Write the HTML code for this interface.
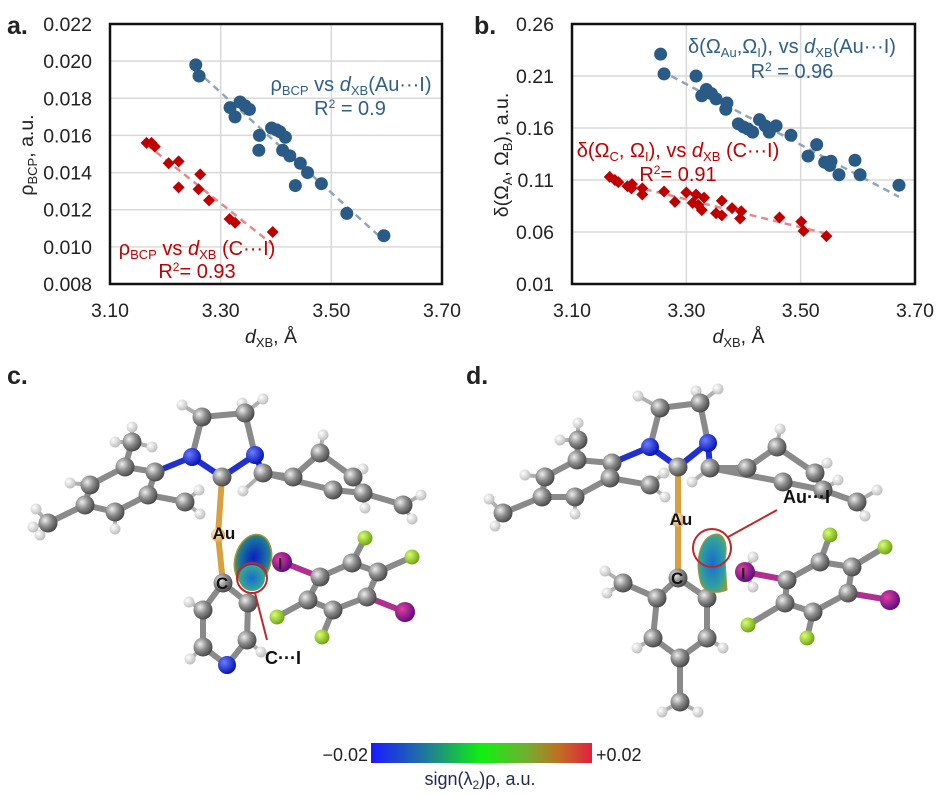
<!DOCTYPE html>
<html><head><meta charset="utf-8"><style>
body{margin:0;background:#fff;}
svg{display:block;font-family:"Liberation Sans",sans-serif;}
</style></head><body>
<svg id="fig" width="939" height="796" viewBox="0 0 939 796">
<defs>
<radialGradient id="gC" cx="35%" cy="35%" r="70%"><stop offset="0" stop-color="#eee"/><stop offset="0.5" stop-color="#8a8a8a"/><stop offset="1" stop-color="#444"/></radialGradient>
<radialGradient id="gH" cx="35%" cy="35%" r="70%"><stop offset="0" stop-color="#fff"/><stop offset="1" stop-color="#bbb"/></radialGradient>
<radialGradient id="gN" cx="35%" cy="35%" r="70%"><stop offset="0" stop-color="#6a7cff"/><stop offset="1" stop-color="#0010b0"/></radialGradient>
<radialGradient id="gF" cx="35%" cy="35%" r="70%"><stop offset="0" stop-color="#d8ff70"/><stop offset="1" stop-color="#6aa010"/></radialGradient>
<radialGradient id="gI" cx="35%" cy="35%" r="70%"><stop offset="0" stop-color="#e040a0"/><stop offset="1" stop-color="#5a0a80"/></radialGradient>
<radialGradient id="gAu" cx="35%" cy="35%" r="70%"><stop offset="0" stop-color="#fff0d0"/><stop offset="1" stop-color="#e0a050"/></radialGradient>
<radialGradient id="gBlob" cx="50%" cy="45%" r="60%"><stop offset="0" stop-color="#0a20c0"/><stop offset="0.6" stop-color="#1870a0"/><stop offset="1" stop-color="#7a9a30"/></radialGradient>
<radialGradient id="gBlob2" cx="50%" cy="50%" r="60%"><stop offset="0" stop-color="#1a6ad0"/><stop offset="0.7" stop-color="#30a0a0"/><stop offset="1" stop-color="#80a040"/></radialGradient>
<linearGradient id="cbar" x1="0" x2="1"><stop offset="0" stop-color="#1a1aff"/><stop offset="0.25" stop-color="#207a9a"/><stop offset="0.5" stop-color="#10f010"/><stop offset="0.7" stop-color="#70b030"/><stop offset="0.85" stop-color="#c07020"/><stop offset="1" stop-color="#e02040"/></linearGradient>
</defs>
<g id="chartA"></g>
<g id="chartB"></g>
<g id="molC"></g>
<g id="molD"></g>

<text x="7" y="34" font-size="25" font-weight="bold" fill="#222">a.</text>
<text x="474" y="34" font-size="25" font-weight="bold" fill="#222">b.</text>
<text x="7" y="384" font-size="25" font-weight="bold" fill="#222">c.</text>
<text x="466" y="384" font-size="25" font-weight="bold" fill="#222">d.</text>

<g>
<rect x="371" y="743" width="221" height="20" fill="url(#cbar)"/>
<text x="368" y="761" font-size="18" text-anchor="end" fill="#222">−0.02</text>
<text x="596" y="761" font-size="18" fill="#222">+0.02</text>
<text x="480" y="785" font-size="18" text-anchor="middle" fill="#1f2a55">sign(λ<tspan font-size="12" dy="4">2</tspan><tspan dy="-4">)ρ, a.u.</tspan></text>
</g>
</svg>
<script>
// ---------- Chart A data ----------
const aBlueX=[3.255,3.261,3.317,3.326,3.335,3.344,3.352,3.370,3.369,3.392,3.401,3.407,3.417,3.412,3.425,3.444,3.457,3.435,3.482,3.528,3.595];
const aBlueY=[0.0198,0.0192,0.0175,0.0170,0.0178,0.0176,0.0174,0.0160,0.0152,0.0164,0.0163,0.0162,0.0159,0.0152,0.0149,0.0145,0.0140,0.0133,0.0134,0.0118,0.0106];
const aRedX=[3.166,3.175,3.181,3.206,3.224,3.224,3.263,3.260,3.279,3.316,3.326,3.394];
const aRedY=[0.0156,0.0156,0.0154,0.0145,0.0146,0.0132,0.0139,0.0131,0.0125,0.0115,0.0113,0.0108];
const aYTicks=["0.008","0.010","0.012","0.014","0.016","0.018","0.020","0.022"];
const xTicks=["3.10","3.30","3.50","3.70"];
// ---------- Chart B data ----------
const bBlueX=[3.255,3.261,3.317,3.327,3.335,3.344,3.352,3.371,3.369,3.391,3.400,3.408,3.416,3.428,3.438,3.445,3.457,3.483,3.513,3.528,3.542,3.553,3.551,3.567,3.595,3.604,3.672];
const bBlueY=[0.231,0.212,0.210,0.191,0.197,0.193,0.188,0.184,0.178,0.164,0.161,0.159,0.156,0.168,0.162,0.156,0.162,0.153,0.133,0.144,0.127,0.128,0.124,0.115,0.129,0.115,0.105];
const bRedX=[3.166,3.175,3.181,3.197,3.205,3.204,3.223,3.223,3.261,3.280,3.300,3.311,3.317,3.321,3.327,3.331,3.352,3.362,3.362,3.380,3.396,3.394,3.463,3.501,3.505,3.545];
const bRedY=[0.113,0.110,0.108,0.104,0.106,0.102,0.102,0.096,0.099,0.089,0.098,0.088,0.096,0.086,0.081,0.093,0.078,0.090,0.076,0.083,0.080,0.073,0.074,0.070,0.061,0.056];
const bYTicks=["0.01","0.06","0.11","0.16","0.21","0.26"];

const NS="http://www.w3.org/2000/svg";
function mk(parent,tag,attrs,text){const e=document.createElementNS(NS,tag);for(const k in attrs)e.setAttribute(k,attrs[k]);if(text!==undefined)e.textContent=text;parent.appendChild(e);return e;}
function fit(xs,ys){const n=xs.length;let sx=0,sy=0,sxx=0,sxy=0;for(let i=0;i<n;i++){sx+=xs[i];sy+=ys[i];sxx+=xs[i]*xs[i];sxy+=xs[i]*ys[i];}const m=(n*sxy-sx*sy)/(n*sxx-sx*sx);return [m,(sy-m*sx)/n];}

function chart(g,L,R,T,B,ymin,ymax,yTicks,blue,red){
  const xs=v=>L+(v-3.1)/0.6*(R-L);
  const ys=v=>B-(v-ymin)/(ymax-ymin)*(B-T);
  yTicks.forEach(t=>{const y=ys(+t);
    const l=mk(g,'line',{x1:L,x2:R,y1:y,y2:y,stroke:'#d9d9d9','stroke-width':1.5});
    
    
    const tx=mk(g,'text',{x:L-18,y:y+7,'font-size':19.5,'text-anchor':'end',fill:'#222'},t);
    
    
  });
  xTicks.forEach(t=>{const x=xs(+t);
    const l=mk(g,'line',{x1:x,x2:x,y1:T,y2:B,stroke:'#d9d9d9','stroke-width':1.5});
    
    
    const tx=mk(g,'text',{x:x,y:317,'font-size':19.5,'text-anchor':'middle',fill:'#222'},t);
    
    
  });
  const fr=mk(g,'rect',{x:L,y:T,width:R-L,height:B-T,fill:'none',stroke:'#111','stroke-width':2.5});
  
  
  [[blue,'#2a5a86','blue'],[red,'#c00000','red']].forEach(([s,mc,nm])=>{
    const [m,b]=fit(s[0],s[1]);const x0=Math.min(...s[0]),x1=Math.max(...s[0]);
    const tl=mk(g,'line',{x1:xs(x0),y1:ys(m*x0+b),x2:xs(x1),y2:ys(m*x1+b),stroke:nm=='blue'?'#8fa5b8':'#e08a8a','stroke-width':2.5,'stroke-dasharray':'7,5'});
    
    
    s[0].forEach((xv,i)=>{const cx=xs(xv),cy=ys(s[1][i]);let p;
      if(nm=='blue'){p=mk(g,'circle',{cx:cx,cy:cy,r:6.5,fill:mc});}
      else{p=mk(g,'path',{d:`M${cx} ${cy-6}L${cx+6} ${cy}L${cx} ${cy+6}L${cx-6} ${cy}Z`,fill:mc});}
      
      
    });
  });
  const xl=mk(g,'text',{x:(L+R)/2-5,y:343,'font-size':19.5,'text-anchor':'middle',fill:'#222'});
  xl.innerHTML='<tspan font-style="italic">d</tspan><tspan font-size="13" dy="4">XB</tspan><tspan dy="-4">, Å</tspan>';
  
  
  return {xs,ys};
}
const gA=document.getElementById('chartA');
chart(gA,110,442,24,284,0.008,0.022,aYTicks,[aBlueX,aBlueY],[aRedX,aRedY]);
const ya=mk(gA,'text',{x:0,y:0,'font-size':19.5,'text-anchor':'middle',fill:'#222',transform:'translate(33,155) rotate(-90)'});
ya.innerHTML='ρ<tspan font-size="13" dy="4">BCP</tspan><tspan dy="-4">, a.u.</tspan>';


let t;
t=mk(gA,'text',{x:351,y:91,'font-size':20,'text-anchor':'middle',fill:'#2f5f8a'});
t.innerHTML='ρ<tspan font-size="13" dy="4">BCP</tspan><tspan dy="-4"> vs </tspan><tspan font-style="italic">d</tspan><tspan font-size="13" dy="4">XB</tspan><tspan dy="-4">(Au···I)</tspan>';


t=mk(gA,'text',{x:350,y:115,'font-size':20,'text-anchor':'middle',fill:'#2f5f8a'});
t.innerHTML='R<tspan font-size="12" dy="-7">2</tspan><tspan dy="7"> = 0.9</tspan>';


t=mk(gA,'text',{x:197,y:255,'font-size':20,'text-anchor':'middle',fill:'#c00000'});
t.innerHTML='ρ<tspan font-size="13" dy="4">BCP</tspan><tspan dy="-4"> vs </tspan><tspan font-style="italic">d</tspan><tspan font-size="13" dy="4">XB</tspan><tspan dy="-4"> (C···I)</tspan>';


t=mk(gA,'text',{x:197,y:278,'font-size':20,'text-anchor':'middle',fill:'#c00000'});
t.innerHTML='R<tspan font-size="12" dy="-7">2</tspan><tspan dy="7">= 0.93</tspan>';



const gB=document.getElementById('chartB');
chart(gB,572,915,24,284,0.01,0.26,bYTicks,[bBlueX,bBlueY],[bRedX,bRedY]);
const yb=mk(gB,'text',{x:0,y:0,'font-size':19.5,'text-anchor':'middle',fill:'#222',transform:'translate(508,155) rotate(-90)'});
yb.innerHTML='δ(Ω<tspan font-size="13" dy="4">A</tspan><tspan dy="-4">, Ω</tspan><tspan font-size="13" dy="4">B</tspan><tspan dy="-4">), a.u.</tspan>';


t=mk(gB,'text',{x:792,y:53,'font-size':20,'text-anchor':'middle',fill:'#2f5f8a'});
t.innerHTML='δ(Ω<tspan font-size="13" dy="4">Au</tspan><tspan dy="-4">,Ω</tspan><tspan font-size="13" dy="4">I</tspan><tspan dy="-4">), vs </tspan><tspan font-style="italic">d</tspan><tspan font-size="13" dy="4">XB</tspan><tspan dy="-4">(Au···I)</tspan>';


t=mk(gB,'text',{x:792,y:78,'font-size':20,'text-anchor':'middle',fill:'#2f5f8a'});
t.innerHTML='R<tspan font-size="12" dy="-7">2</tspan><tspan dy="7"> = 0.96</tspan>';


t=mk(gB,'text',{x:678,y:157,'font-size':20,'text-anchor':'middle',fill:'#c00000'});
t.innerHTML='δ(Ω<tspan font-size="13" dy="4">C</tspan><tspan dy="-4">, Ω</tspan><tspan font-size="13" dy="4">I</tspan><tspan dy="-4">), vs </tspan><tspan font-style="italic">d</tspan><tspan font-size="13" dy="4">XB</tspan><tspan dy="-4"> (C···I)</tspan>';


t=mk(gB,'text',{x:678,y:181,'font-size':20,'text-anchor':'middle',fill:'#c00000'});
t.innerHTML='R<tspan font-size="12" dy="-7">2</tspan><tspan dy="7">= 0.91</tspan>';



// ---------- Molecules ----------
const R={C:9.5,H:5.5,N:9,F:7.5,I:10,Au:7};
function mol(g,atoms,bonds,hs){
  bonds.forEach(([a,b,col])=>{const A=atoms[a],B=atoms[b];
    const l=mk(g,'line',{x1:A[1],y1:A[2],x2:B[1],y2:B[2],stroke:col||'#8a8a8a','stroke-width':6,'stroke-linecap':'round'});
    
    
  });
  hs.forEach(([a,dx,dy])=>{const A=atoms[a];
    const l=mk(g,'line',{x1:A[1],y1:A[2],x2:A[1]+dx,y2:A[2]+dy,stroke:'#b0b0b0','stroke-width':4});
    
    
    const c=mk(g,'circle',{cx:A[1]+dx,cy:A[2]+dy,r:R.H,fill:'url(#gH)'});
    
    
  });
  atoms.forEach(([el,x,y])=>{
    const c=mk(g,'circle',{cx:x,cy:y,r:R[el],fill:'url(#g'+el+')'});
    
    
  });
}
const gC=document.getElementById('molC');
const cAtoms=[['C',202,417],['C',245,413],['N',192,457],['N',255,455],['C',222,477],
['C',155,472],['C',125,467],['C',132,442],['C',90,485],['C',85,505],['C',115,512],['C',148,495],['C',185,502],['C',48,523],
['C',293,477],['C',320,453],['C',353,477],['C',363,493],['C',333,490],['C',263,473],['C',403,505],
['Au',218,535],['C',223,583],['C',248,603],['C',247,640],['N',227,665],['C',203,647],['C',203,610],
['I',282,562],['C',320,577],['C',352,563],['C',378,572],['C',367,597],['C',333,610],['C',308,600],
['F',365,538],['F',412,557],['F',277,617],['F',322,637],['I',405,612]];
const cBonds=[[0,1],[0,2],[1,3],[2,4,'#2030d0'],[3,4,'#2030d0'],[2,5,'#2030d0'],[5,6],[6,7],[6,8],[8,9],[9,10],[10,11],[11,5],[11,12],[9,13],
[3,19,'#2030d0'],[19,14],[14,15],[15,16],[16,17],[17,18],[18,19],[17,20],
[4,21,'#d8a040'],[21,22,'#d8a040'],[22,23],[23,24],[24,25],[25,26],[26,27],[27,22],
[28,29,'#b03090'],[29,30],[30,31],[31,32],[32,33],[33,34],[34,29],[30,35],[31,36],[34,37],[33,38],[32,39,'#b03090']];
const cH=[[0,-20,-12],[1,18,-14],[1,-3,-10],[7,0,-15],[7,-17,0],[7,20,5],[8,-20,-2],[10,0,17],[12,14,-12],[12,15,12],[13,-12,-14],[13,-8,12],[13,-15,4],[15,3,-18],[16,10,-8],[17,2,15],[19,-20,18],[20,18,-10],[20,9,14],[27,-14,-8],[26,-13,12],[24,14,12]];
mol(gC,cAtoms,cBonds,cH);
let e;
e=mk(gC,'ellipse',{cx:253,cy:560,rx:18,ry:26,fill:'url(#gBlob)',stroke:'#9a9a40','stroke-width':1.5,transform:'rotate(15 253 560)'});


e=mk(gC,'ellipse',{cx:252,cy:578,rx:13,ry:13,fill:'url(#gBlob2)'});


e=mk(gC,'circle',{cx:252,cy:578,r:15,fill:'none',stroke:'#c0262a','stroke-width':2});


e=mk(gC,'line',{x1:255,y1:593,x2:267,y2:640,stroke:'#c0262a','stroke-width':2});


e=mk(gC,'text',{x:265,y:664,'font-size':18,'font-weight':'bold',fill:'#111'},'C···I');


e=mk(gC,'text',{x:224,y:539,'font-size':17,'font-weight':'bold',fill:'#111','text-anchor':'middle'},'Au');


e=mk(gC,'text',{x:216,y:589,'font-size':17,'font-weight':'bold',fill:'#111'},'C');


e=mk(gC,'text',{x:278,y:569,'font-size':16,'font-weight':'bold',fill:'#222'},'I');



const gD=document.getElementById('molD');
const dAtoms=[['C',660,408],['C',700,403],['N',650,447],['N',708,443],['C',678,467],
['C',612,463],['C',577,460],['C',578,440],['C',545,477],['C',542,497],['C',575,497],['C',610,478],['C',650,485],['C',503,513],
['C',747,468],['C',777,447],['C',815,473],['C',823,490],['C',783,482],['C',710,468],['C',857,502],
['Au',678,520],['C',678,578],['C',657,598],['C',653,638],['C',680,658],['C',707,638],['C',707,598],['C',623,583],['C',680,702],
['I',745,572],['C',787,580],['C',820,562],['C',852,567],['C',848,593],['C',813,612],['C',785,603],
['F',830,535],['F',885,547],['F',748,625],['F',807,638],['I',890,600]];
const dBonds=[[0,1],[0,2],[1,3],[2,4,'#2030d0'],[3,4,'#2030d0'],[2,5,'#2030d0'],[5,6],[6,7],[6,8],[8,9],[9,10],[10,11],[11,5],[11,12],[9,13],
[3,19,'#2030d0'],[19,14],[14,15],[15,16],[16,17],[17,18],[18,19],[17,20],
[4,21,'#d8a040'],[21,22,'#d8a040'],[22,23],[23,24],[24,25],[25,26],[26,27],[27,22],[23,28],[25,29],
[30,31,'#b03090'],[31,32],[32,33],[33,34],[34,35],[35,36],[36,31],[32,37],[33,38],[36,39],[35,40],[34,41,'#b03090']];
const dH=[[0,-22,-12],[1,18,-14],[1,-4,-12],[7,0,-17],[7,-18,0],[8,-20,-2],[10,0,17],[12,14,-12],[12,15,12],[13,-14,-14],[13,-8,13],[15,3,-18],[16,12,-10],[17,15,-10],[19,-18,14],[20,20,-12],[20,8,14],[28,-18,-12],[28,-16,10],[24,-16,10],[26,16,10],[29,-18,10],[29,18,10],[30,8,-15],[30,8,15]];
mol(gD,dAtoms,dBonds,dH);
e=mk(gD,'path',{d:'M700 580 C695 560 700 540 712 535 C725 530 728 545 725 560 L727 590 C715 595 702 592 700 580Z',fill:'url(#gBlob2)',stroke:'#9a9a40','stroke-width':1});


e=mk(gD,'circle',{cx:712,cy:548,r:19,fill:'none',stroke:'#c0262a','stroke-width':2});


e=mk(gD,'line',{x1:728,y1:537,x2:777,y2:510,stroke:'#c0262a','stroke-width':2});


e=mk(gD,'text',{x:783,y:503,'font-size':18,'font-weight':'bold',fill:'#111'},'Au···I');


e=mk(gD,'text',{x:681,y:525,'font-size':17,'font-weight':'bold',fill:'#111','text-anchor':'middle'},'Au');


e=mk(gD,'text',{x:671,y:584,'font-size':17,'font-weight':'bold',fill:'#111'},'C');


e=mk(gD,'text',{x:741,y:579,'font-size':16,'font-weight':'bold',fill:'#222'},'I');


</script>
</body></html>
